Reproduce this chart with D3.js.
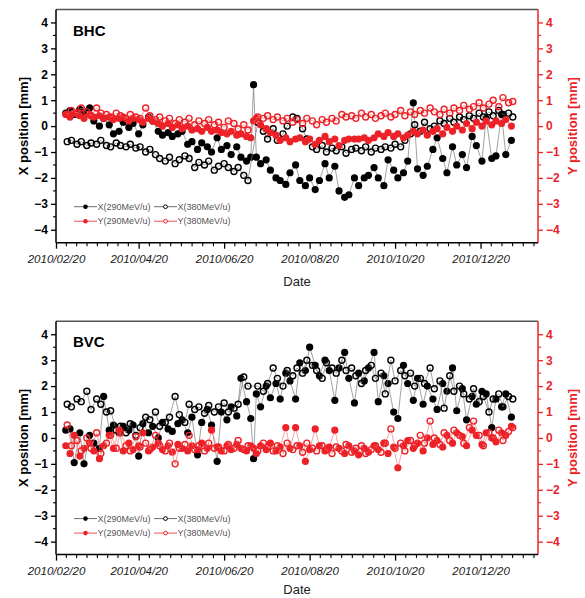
<!DOCTYPE html>
<html>
<head>
<meta charset="utf-8">
<script src="https://cdn.jsdelivr.net/npm/d3@7/dist/d3.min.js"></script>
<style>
  body { margin: 0; background: #fff; }
  svg { font-family: "Liberation Sans", Arial, sans-serif; }
</style>
</head>
<body>
<script>
// measurement days, counted from 2010/02/20
var days290 = [7,10,13,17,20,24,27,31,34,38,41,45,48,52,55,59,62,66,69,73,76,80,83,87,90,94,97,101,104,108,111,115,118,122,125,129,132,136,139,141,143,146,150,153,157,160,164,167,171,174,178,181,185,188,192,195,199,202,206,209,213,216,220,223,227,230,234,237,241,244,248,251,255,258,262,265,269,272,276,279,283,286,290,293,297,300,304,307,311,314,318,321,325];
var days380 = [8,11,15,18,22,25,29,32,36,39,43,46,50,53,57,60,64,67,71,74,78,81,85,88,92,95,99,102,106,109,113,116,120,123,127,130,134,137,144,148,151,155,158,162,165,169,172,176,179,183,186,190,193,197,200,204,207,211,214,218,221,225,228,232,235,239,242,246,249,253,256,260,263,267,270,274,277,281,284,288,291,295,298,302,305,309,312,316,319,323,326];

// BHC [mm]
var bhcX290 = [0.5,0.6,0.45,0.65,0.55,0.7,0.2,0.0,0.3,0.05,-0.3,-0.2,0.15,-0.05,0.1,-0.3,0.05,0.35,0.2,-0.2,-0.35,-0.25,-0.4,-0.3,-0.2,-0.7,-0.6,-0.9,-0.65,-0.8,-1.0,-0.45,-0.9,-0.75,-1.1,-0.8,-1.2,-1.35,-1.2,1.6,-1.2,-1.45,-1.3,-1.7,-2.0,-2.1,-2.25,-1.8,-1.5,-2.1,-2.3,-2.0,-2.45,-2.1,-1.45,-2.0,-1.55,-2.5,-2.75,-2.65,-2.0,-2.3,-2.0,-1.9,-1.6,-2.0,-2.3,-1.3,-1.7,-2.0,-1.8,-1.35,0.9,-1.65,-1.9,-1.55,-0.9,-0.45,-1.25,-1.8,-0.8,-1.5,-1.1,-1.6,-0.4,-0.75,-1.35,0.3,-1.25,-1.15,0.45,-1.1,-0.55];
var bhcY290 = [0.45,0.35,0.5,0.4,0.3,0.45,0.35,0.4,0.3,0.35,0.25,0.3,0.35,0.2,0.3,0.25,0.15,0.3,0.2,0.1,0.0,0.1,-0.05,0.05,-0.1,0.0,-0.15,-0.1,-0.2,-0.05,-0.2,-0.15,-0.25,-0.3,-0.2,-0.35,-0.3,-0.4,-0.45,0.2,0.3,0.05,-0.1,-0.25,-0.35,-0.55,-0.45,-0.6,-0.5,-0.45,-0.6,-0.5,-0.7,-0.55,-0.4,-0.6,-0.5,-0.75,-0.55,-0.5,-0.5,-0.5,-0.45,-0.55,-0.45,-0.3,-0.4,-0.25,-0.4,-0.3,-0.45,-0.35,-0.2,-0.3,-0.15,-0.35,-0.2,-0.1,-0.3,-0.05,-0.2,0.0,-0.15,0.1,-0.1,0.15,0.0,0.2,0.05,0.2,0.1,0.25,0.0];
var bhcX380 = [-0.6,-0.55,-0.7,-0.6,-0.75,-0.65,-0.7,-0.55,-0.75,-0.8,-0.65,-0.75,-0.8,-0.7,-0.85,-0.8,-1.0,-0.9,-1.1,-1.25,-1.35,-1.2,-1.45,-1.3,-1.15,-1.25,-1.6,-1.4,-1.5,-1.35,-1.7,-1.55,-1.45,-1.6,-1.75,-1.6,-1.9,-2.1,0.15,-0.2,-0.5,-0.1,-0.55,-0.3,0.0,0.35,0.3,-0.1,-0.5,-0.8,-0.9,-0.75,-1.0,-0.85,-0.95,-0.8,-1.05,-0.9,-0.85,-0.95,-0.8,-1.0,-0.85,-0.9,-0.8,-0.85,-0.7,-0.8,-0.55,-0.3,0.05,-0.2,0.15,-0.1,0.0,0.2,0.1,0.3,0.15,0.35,0.25,0.4,0.3,0.5,0.35,0.55,0.4,0.6,0.45,0.5,0.35];
var bhcY380 = [0.45,0.6,0.5,0.7,0.55,0.4,0.7,0.5,0.45,0.35,0.5,0.4,0.3,0.45,0.35,0.3,0.7,0.4,0.25,0.35,0.2,0.3,0.1,0.25,0.15,0.3,0.05,0.2,0.1,0.25,0.05,0.15,-0.05,0.2,0.1,-0.1,0.05,-0.15,0.35,0.3,0.4,0.25,0.35,0.2,0.3,0.15,0.25,0.1,0.3,0.2,0.05,0.25,0.15,0.3,0.2,0.45,0.35,0.4,0.3,0.5,0.35,0.45,0.3,0.4,0.5,0.35,0.45,0.6,0.4,0.55,0.45,0.6,0.5,0.7,0.55,0.45,0.65,0.5,0.7,0.6,0.8,0.65,0.75,0.9,0.7,0.85,1.0,0.75,1.1,0.9,0.95];

// BVC [mm]
var bvcX290 = [0.3,0.35,-0.95,0.2,-1.0,0.1,-0.2,-0.4,1.6,0.3,0.5,0.2,0.45,0.3,0.5,-0.7,0.55,0.2,0.45,0.0,0.6,0.35,0.25,0.55,0.7,0.2,0.8,-0.65,0.6,1.1,0.5,-0.9,1.0,0.7,1.2,0.85,2.3,1.4,0.75,-0.8,1.7,1.2,2.0,1.55,2.1,1.5,2.5,2.2,1.5,2.9,2.6,3.5,2.8,2.4,3.0,2.6,1.45,2.7,3.3,2.3,1.35,2.5,2.2,2.7,3.3,1.4,2.4,2.1,1.0,0.75,2.8,2.1,1.45,2.3,1.3,2.0,1.5,1.1,2.1,1.8,2.7,1.05,1.9,0.7,1.6,1.3,1.8,1.7,0.4,1.5,1.2,1.7,0.8];
var bvcY290 = [-0.3,-0.6,0.1,-0.7,-0.4,-0.2,-0.5,-0.8,-0.3,0.1,-0.4,0.3,-0.5,-0.2,-0.45,-0.3,0.2,-0.5,-0.35,-0.2,-0.45,-0.3,-0.55,-0.25,-0.4,-0.5,-0.3,-0.45,-0.2,-0.4,0.3,-0.35,-0.5,-0.3,-0.45,-0.25,-0.4,-0.5,-0.3,-0.4,-0.6,-0.3,-0.45,-0.2,-0.5,-0.35,0.4,-0.4,0.4,-0.3,-0.9,-0.45,0.35,-0.3,-0.5,-0.35,0.3,-0.4,-0.6,-0.3,-0.5,-0.65,-0.4,-0.55,-0.3,-0.45,-0.2,-0.6,-0.35,-1.15,-0.3,-0.1,-0.4,-0.2,-0.5,0.0,-0.25,-0.1,-0.35,0.1,-0.2,0.2,0.05,-0.3,0.3,0.1,-0.25,0.2,0.0,-0.15,0.2,0.1,0.45];
var bvcX380 = [1.3,1.2,1.5,1.4,1.8,1.1,1.5,1.3,1.0,1.05,0.3,0.45,0.2,0.55,0.1,0.4,0.8,0.7,1.0,0.45,0.6,0.8,1.6,0.9,0.6,1.3,1.1,1.2,0.95,1.25,1.0,1.2,1.35,1.0,1.15,1.3,2.35,2.0,2.0,1.8,2.1,2.7,2.3,2.0,2.6,2.4,2.7,2.5,3.0,2.8,2.6,2.3,2.9,2.7,2.5,3.0,2.6,2.7,2.4,2.1,2.6,2.8,2.3,2.5,1.7,3.0,2.2,2.6,2.4,2.5,2.0,2.3,2.1,2.7,1.9,2.2,1.15,2.4,1.8,2.0,1.7,1.5,1.9,1.4,1.6,1.0,1.5,1.7,1.2,1.6,1.5];
var bvcY380 = [0.5,-0.3,-0.1,-0.5,0.0,-0.4,0.2,-0.6,-0.2,0.1,-0.4,0.2,-0.3,-0.5,0.05,-0.35,-0.2,-0.45,0.1,-0.3,-0.5,-0.2,-1.0,-0.4,-0.25,0.1,-0.45,-0.3,-0.5,-0.2,-0.4,-0.35,-0.5,-0.25,-0.4,-0.1,-0.45,-0.3,-0.5,-0.2,-0.35,-0.5,-0.3,-0.6,-0.2,-0.45,-0.3,-0.55,-0.2,-0.4,-0.5,-0.3,-0.45,-0.6,-0.35,-0.5,-0.25,-0.55,-0.4,-0.3,-0.6,-0.45,-0.3,-0.55,-0.2,0.35,-0.4,-0.2,-0.5,-0.1,-0.3,0.1,-0.2,0.65,0.0,-0.25,0.2,-0.1,0.3,0.1,-0.2,0.4,0.65,0.1,-0.3,0.2,0.0,0.3,-0.1,0.25,0.4];

// axis ticks
var dateTicks = ["2010/02/20","2010/04/20","2010/06/20","2010/08/20","2010/10/20","2010/12/20"];
var mmTicks = [-4,-3,-2,-1,0,1,2,3,4];
var legendNames = ["X(290MeV/u)","X(380MeV/u)","Y(290MeV/u)","Y(380MeV/u)"];

var w_svg = 585;
var h_svg = 598;
var red = "#ec2228";

var svg = d3.select("body").append("svg")
  .attr("width", w_svg)
  .attr("height", h_svg);

var parseDay = d3.utcParse("%Y/%m/%d");
var start = parseDay("2010/02/20");
var end = parseDay("2011/01/30");

var xScale = d3.scaleUtc().domain([start, end]).range([56, 538]);

function toDate(d) { return d3.utcDay.offset(start, d); }

// minor date ticks: 7 between each pair of majors, continued to the end
var majorDates = dateTicks.map(parseDay);
var minorDates = [];
for (var i = 0; i < majorDates.length; i++) {
  var a = majorDates[i];
  var b = i < majorDates.length - 1 ? majorDates[i + 1] : null;
  var step = b ? (b - a) / 8 : (majorDates[i] - majorDates[i - 1]) / 8;
  for (var k = 1; k < 8; k++) {
    var t = new Date(+a + step * k);
    if (t < end) minorDates.push(t);
  }
}

function halfTicks() {
  return mmTicks.slice(0, -1).map(function(v) { return v + 0.5; });
}

function panel(top, bottom, title, x290, x380, y290, y380) {
  var yScale = d3.scaleLinear().domain([-4.5, 4.5]).range([bottom, top]);
  var g = svg.append("g");

  // series: black first, red on top
  var series = [
    {days: days290, vals: x290, col: "#000", line: "#7a7a7a", filled: true},
    {days: days380, vals: x380, col: "#000", line: "#7a7a7a", filled: false},
    {days: days290, vals: y290, col: red, line: "#f27c7c", filled: true},
    {days: days380, vals: y380, col: red, line: "#f27c7c", filled: false}
  ];

  series.forEach(function(s) {
    var pts = s.days.map(function(d, i) { return [toDate(d), s.vals[i]]; });
    var line = d3.line()
      .x(function(p) { return xScale(p[0]); })
      .y(function(p) { return yScale(p[1]); });
    g.append("path").datum(pts)
      .attr("d", line)
      .attr("fill", "none")
      .attr("stroke", s.line)
      .attr("stroke-width", 0.7);
    g.selectAll(null).data(pts).enter().append("circle")
      .attr("cx", function(p) { return xScale(p[0]); })
      .attr("cy", function(p) { return yScale(p[1]); })
      .attr("r", s.filled ? 3.6 : 3.0)
      .attr("fill", "#fff")
      .attr("fill-opacity", s.filled ? 1 : 0)
      .attr("fill", s.filled ? s.col : "none")
      .attr("stroke", s.col)
      .attr("stroke-width", s.filled ? 0 : 1.4);
  });

  // frame top
  g.append("line")
    .attr("x1", 56).attr("x2", 538).attr("y1", top).attr("y2", top)
    .attr("stroke", "#555").attr("stroke-width", 1.5);

  // left axis
  var left = d3.axisLeft(yScale).tickValues(mmTicks).tickSize(5).tickPadding(3)
    .tickFormat(d3.format("d"));
  var gl = g.append("g").attr("transform", "translate(56,0)").call(left);
  gl.selectAll("path.domain").attr("stroke-width", 1.5).attr("d", "M0," + top + "V" + bottom);
  gl.selectAll(".tick line").attr("stroke-width", 1.3);
  gl.selectAll("text").attr("font-size", 12).attr("font-weight", "bold")
    .attr("font-family", "Liberation Sans, Arial, sans-serif");
  gl.selectAll(null).data(halfTicks()).enter().append("line")
    .attr("x1", -3).attr("x2", 0)
    .attr("y1", function(v) { return yScale(v); }).attr("y2", function(v) { return yScale(v); })
    .attr("stroke", "#000").attr("stroke-width", 1.1);

  // right axis
  var right = d3.axisRight(yScale).tickValues(mmTicks).tickSize(5).tickPadding(3)
    .tickFormat(d3.format("d"));
  var gr = g.append("g").attr("transform", "translate(538,0)").call(right);
  gr.selectAll("path.domain").attr("stroke", red).attr("stroke-width", 1.5).attr("d", "M0," + top + "V" + bottom);
  gr.selectAll(".tick line").attr("stroke", red).attr("stroke-width", 1.3);
  gr.selectAll("text").attr("fill", red).attr("font-size", 12).attr("font-weight", "bold")
    .attr("font-family", "Liberation Sans, Arial, sans-serif");
  gr.selectAll(null).data(halfTicks()).enter().append("line")
    .attr("x1", 0).attr("x2", 3)
    .attr("y1", function(v) { return yScale(v); }).attr("y2", function(v) { return yScale(v); })
    .attr("stroke", red).attr("stroke-width", 1.1);

  // bottom axis
  var bottomAx = d3.axisBottom(xScale).tickValues(majorDates).tickSize(6).tickPadding(6)
    .tickFormat(d3.utcFormat("%Y/%m/%d"));
  var gb = g.append("g").attr("transform", "translate(0," + bottom + ")").call(bottomAx);
  gb.selectAll("path.domain").attr("stroke-width", 1.5).attr("d", "M56,0H538");
  gb.selectAll(".tick line").attr("stroke-width", 1.3);
  gb.selectAll("text").attr("font-size", 11.5).attr("font-style", "italic").attr("fill", "#222")
    .attr("font-family", "Liberation Sans, Arial, sans-serif");
  gb.selectAll(null).data(minorDates).enter().append("line")
    .attr("x1", function(t) { return xScale(t); }).attr("x2", function(t) { return xScale(t); })
    .attr("y1", 0).attr("y2", 3.5)
    .attr("stroke", "#000").attr("stroke-width", 1.1);

  // axis titles
  g.append("text")
    .attr("transform", "translate(28," + ((top + bottom) / 2) + ") rotate(-90)")
    .attr("text-anchor", "middle")
    .attr("font-size", 13).attr("font-weight", "bold")
    .text("X position [mm]");
  g.append("text")
    .attr("transform", "translate(577," + ((top + bottom) / 2) + ") rotate(-90)")
    .attr("text-anchor", "middle")
    .attr("font-size", 13).attr("font-weight", "bold").attr("fill", red)
    .text("Y position [mm]");
  g.append("text")
    .attr("x", 297).attr("y", Math.min(bottom + 43, h_svg - 4))
    .attr("text-anchor", "middle")
    .attr("font-size", 13).attr("fill", "#222")
    .text("Date");

  // panel name
  g.append("text")
    .attr("x", 73).attr("y", top + 26)
    .attr("font-size", 15).attr("font-weight", "bold")
    .text(title);

  // legend
  var legRows = [bottom - 36, bottom - 21.5];
  var legCols = [74, 154];
  legendNames.forEach(function(name, i) {
    var lx = legCols[i % 2];
    var ly = legRows[Math.floor(i / 2)];
    var c = i < 2 ? "#000" : red;
    var lc = i < 2 ? "#444" : red;
    g.append("line")
      .attr("x1", lx).attr("x2", lx + 23).attr("y1", ly).attr("y2", ly)
      .attr("stroke", lc).attr("stroke-width", 0.8);
    g.append("circle")
      .attr("cx", lx + 11.5).attr("cy", ly)
      .attr("r", i % 2 == 0 ? 2.3 : 1.9)
      .attr("fill", i % 2 == 0 ? c : "#fff")
      .attr("stroke", c).attr("stroke-width", i % 2 == 0 ? 0 : 1);
    g.append("text")
      .attr("x", lx + 23.5).attr("y", ly + 3)
      .attr("font-size", 9).attr("fill", "#555")
      .text(name);
  });
}

panel(9.5, 242.7, "BHC", bhcX290, bhcX380, bhcY290, bhcY380);
panel(321.3, 554.6, "BVC", bvcX290, bvcX380, bvcY290, bvcY380);
</script>
</body>
</html>
